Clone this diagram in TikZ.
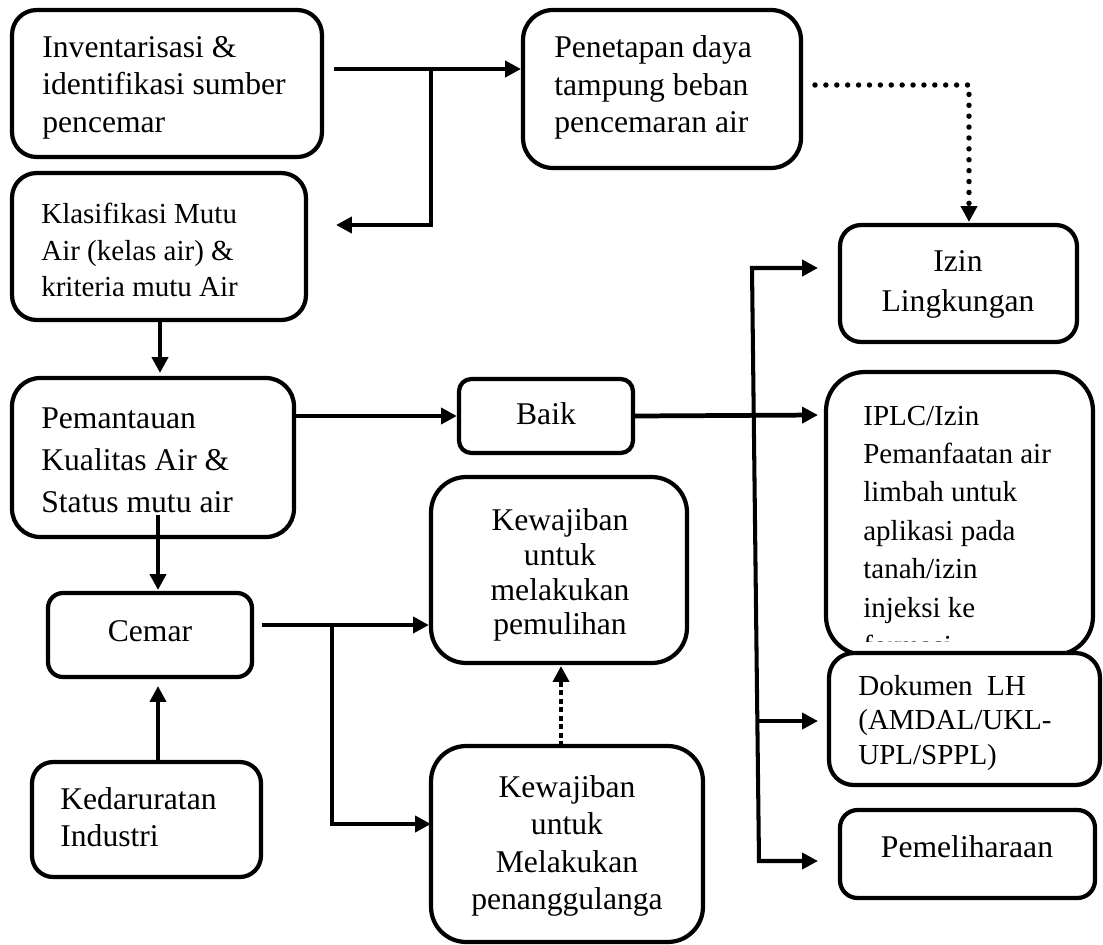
\documentclass[tikz,border=0pt]{standalone}
\usepackage{fontspec}
\setmainfont{Liberation Serif}
\usetikzlibrary{arrows.meta,calc}
\begin{document}
\begin{tikzpicture}[x=0.02cm,y=-0.02cm,
  box/.style={draw,line width=2.4pt,rounded corners=#1,inner sep=0pt,fill=white},
  box/.default=12pt,
  txt/.style={inner sep=0pt,font=\fontsize{18pt}{21.3pt}\selectfont},
  stxt/.style={inner sep=0pt,font=\fontsize{16.5pt}{21pt}\selectfont},
  tipa/.tip={Triangle[length=9pt,width=9pt]},
  arr/.style={line width=2.7pt,-tipa},
  arrt/.style={line width=2.3pt,-tipa},
  dotarr/.style={line width=3.1pt,line cap=round,dash pattern=on 0pt off 6.2pt,-tipa},
  dasharr/.style={line width=2.2pt,dash pattern=on 2.8pt off 2pt,-tipa}
]
\fill[white] (0,0) rectangle (1103,944);
\useasboundingbox (0,0) rectangle (1103,944);

% boxes
\node[box=14pt,minimum width=6.2cm,minimum height=2.94cm] (inv) at (167,83.5) {};
\node[box=17pt,minimum width=5.56cm,minimum height=3.16cm] (pen) at (662,89) {};
\node[box=14pt,minimum width=5.88cm,minimum height=2.94cm] (kla) at (159,246.5) {};
\node[box=12pt,minimum width=4.74cm,minimum height=2.34cm] (izin) at (958.5,283.5) {};
\node[box=16pt,minimum width=5.64cm,minimum height=3.18cm] (pem) at (153,457.5) {};
\node[box=7pt,minimum width=3.48cm,minimum height=1.48cm] (baik) at (546,416) {};
\node[box=22pt,minimum width=5.34cm,minimum height=5.66cm] (iplc) at (959.5,513.5) {};
\node[box=20pt,minimum width=5.12cm,minimum height=3.72cm] (kew1) at (559,570) {};
\node[box=8.5pt,minimum width=4.08cm,minimum height=1.68cm] (cemar) at (150,635) {};
\node[box=14pt,minimum width=5.42cm,minimum height=2.64cm] (dok) at (964.5,719) {};
\node[box=12pt,minimum width=4.58cm,minimum height=2.3cm] (ked) at (146.5,819.5) {};
\node[box=20pt,minimum width=5.44cm,minimum height=3.92cm] (kew2) at (567,844) {};
\node[box=10pt,minimum width=5.1cm,minimum height=1.76cm] (peml) at (967.5,854) {};

% texts
\node[txt,anchor=west,align=left] (invt) at (42,87.5) {Inventarisasi \&\\identifikasi sumber\\pencemar};
\node[txt,anchor=west,align=left] (pent) at (554,87.5) {Penetapan daya\\tampung beban\\pencemaran air};
\node[stxt,anchor=west,align=left] (klat) at (41,250) {Klasifikasi Mutu\\Air (kelas air) \&\\kriteria mutu Air};
\node[txt,align=center,font=\fontsize{18pt}{22.7pt}\selectfont] (izint) at (958,284) {Izin\\Lingkungan};
\node[txt,anchor=west,align=left,font=\fontsize{18pt}{23.8pt}\selectfont] (pemt) at (41,460) {Pemantauan\\Kualitas Air \&\\Status mutu air};
\node[txt] (baikt) at (546,414) {Baik};
\begin{scope}
\clip (800,380) rectangle (1100,641);
\node[stxt,anchor=west,align=left,font=\fontsize{16.5pt}{21.9pt}\selectfont] (iplct) at (863,531) {IPLC/Izin\\Pemanfaatan air\\limbah untuk\\aplikasi pada\\tanah/izin\\injeksi ke\\formasi};
\end{scope}
\node[txt,align=center,font=\fontsize{18pt}{19.8pt}\selectfont] (kew1t) at (560,575) {Kewajiban\\untuk\\melakukan\\pemulihan};
\node[txt] (cemart) at (150,631) {Cemar};
\node[stxt,anchor=west,align=left,font=\fontsize{16.5pt}{19.6pt}\selectfont] (dokt) at (858,723) {Dokumen\ \ LH\\(AMDAL/UKL-\\UPL/SPPL)};
\node[txt,anchor=west,align=left,font=\fontsize{18pt}{21pt}\selectfont] (kedt) at (60,817) {Kedaruratan\\Industri};
\node[txt,align=center,font=\fontsize{18pt}{21.2pt}\selectfont] (kew2t) at (567,846) {Kewajiban\\untuk\\Melakukan\\penanggulanga};
\node[txt] (memlt) at (967,847) {Pemeliharaan};

% connector points
\coordinate (a1) at (334,69);
\coordinate (a2) at (521,69);
\coordinate (j1) at (431,69);
\coordinate (k1) at (336,225);
\coordinate (d1) at (815,85);
\coordinate (d2) at (969,222);
\coordinate (q1) at (160,320);
\coordinate (q2) at (160,373);
\coordinate (t1) at (818,268);
\coordinate (v1) at (752,268);
\coordinate (v2) at (759,861);
\coordinate (t4) at (818,861);
\coordinate (v3) at (757.3,721);
\coordinate (t3) at (818,721);
\coordinate (t2) at (818,415);
\coordinate (p1) at (158,515);
\coordinate (p2) at (158,590);
\coordinate (c1) at (262,625);
\coordinate (j2) at (332,625);
\coordinate (k2) at (431,824);
\coordinate (e1) at (158,762);
\coordinate (e2) at (158,686);
\coordinate (f1) at (561,746);
\coordinate (f2) at (561,666);

% connectors
\draw[arr] (a1) -- (a2);
\draw[arr] (j1) |- (k1);
\draw[dotarr] (d1) -| (d2);
\draw[arrt] (q1) -- (q2);
\draw[arr] (pem.east |- baik.west) -- (baik.west);
\draw[arr] (baik.east) -- (t2);
\draw[line width=2.3pt,tipa-tipa] (t1) -- (v1) -- (v2) -- (t4);
\draw[arr] (v3) -- (t3);
\draw[arrt] (p1) -- (p2);
\draw[arr] (c1) -- (c1 -| kew1.west);
\draw[arr] (j2) |- (k2);
\draw[arrt] (e1) -- (e2);
\draw[dasharr] (f1) -- (f2);
\end{tikzpicture}
\end{document}
